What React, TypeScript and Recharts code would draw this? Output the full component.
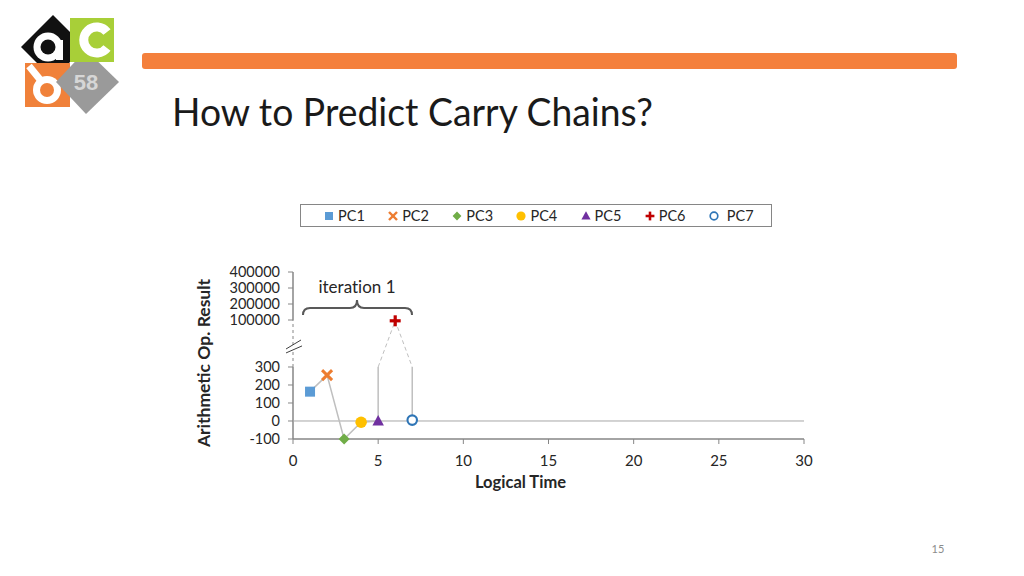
import React from 'react';
import { ScatterChart, Scatter, XAxis, YAxis, Legend, ReferenceLine } from 'recharts';

// values
const seriesNames = ['PC1', 'PC2', 'PC3', 'PC4', 'PC5', 'PC6', 'PC7'];
const logicalTime = [1, 2, 3, 4, 5, 6, 7];
const opResult = [163, 255, -100, -7, 0, 95000, 5];
const xTicks = [0, 5, 10, 15, 20, 25, 30];
const yTickValues = [-100, 0, 100, 200, 300, 100000, 200000, 300000, 400000];

// broken y axis: lower panel is linear in raw units, upper panel is squeezed
const LOWER_TOP = 300;
const UPPER_BASE = 100000;
const BREAK_GAP = 261;
const UPPER_PER_UNIT = 1125;
const toAxis = (v: number) =>
  v <= 1000 ? v : LOWER_TOP + BREAK_GAP + (v - UPPER_BASE) / UPPER_PER_UNIT;

const yAxisTicks = yTickValues.map(toAxis);
const yDomain = [yTickValues[0], toAxis(yTickValues[yTickValues.length - 1])];

const FONT = "Lato, 'Open Sans', sans-serif";
const TEXT = '#262626';
const AXIS = '#868686';
const CONNECTOR = '#bfbfbf';
const NO_LIGA: React.CSSProperties = { fontVariantLigatures: 'none', fontFeatureSettings: '"liga" 0' };

const colors = ['#5b9bd5', '#ed7d31', '#70ad47', '#ffc000', '#7030a0', '#c00000', '#2e75b6'];

const drawMarker = (i: number, cx: number, cy: number, s: number) => {
  const c = colors[i];
  switch (i) {
    case 0:
      return <rect x={cx - s} y={cy - s} width={s * 2} height={s * 2} fill={c} />;
    case 1:
      return (
        <g stroke={c} strokeWidth={s * 0.6} strokeLinecap="butt">
          <line x1={cx - s} y1={cy - s} x2={cx + s} y2={cy + s} />
          <line x1={cx - s} y1={cy + s} x2={cx + s} y2={cy - s} />
        </g>
      );
    case 2:
      return (
        <polygon
          points={`${cx},${cy - s * 1.1} ${cx + s * 1.1},${cy} ${cx},${cy + s * 1.1} ${cx - s * 1.1},${cy}`}
          fill={c}
        />
      );
    case 3:
      return <circle cx={cx} cy={cy} r={s * 1.15} fill={c} />;
    case 4:
      return (
        <polygon
          points={`${cx},${cy - s * 1.2} ${cx + s * 1.15},${cy + s * 0.9} ${cx - s * 1.15},${cy + s * 0.9}`}
          fill={c}
        />
      );
    case 5:
      return (
        <g fill={c}>
          <rect x={cx - s * 1.1} y={cy - s * 0.32} width={s * 2.2} height={s * 0.64} />
          <rect x={cx - s * 0.32} y={cy - s * 1.1} width={s * 0.64} height={s * 2.2} />
        </g>
      );
    default:
      return <circle cx={cx} cy={cy} r={s * 0.95} fill="#fff" stroke={c} strokeWidth={s * 0.42} />;
  }
};

const noDot = () => <g />;

// connector path: solid through PC1..PC5, up to top of the lower panel,
// dashed over the break to PC6 and back, then solid down to PC7
const solidA = [0, 1, 2, 3, 4]
  .map((i) => ({ x: logicalTime[i], y: toAxis(opResult[i]) }))
  .concat({ x: logicalTime[4], y: LOWER_TOP });
const dashedBreak = [
  { x: logicalTime[4], y: LOWER_TOP },
  { x: logicalTime[5], y: toAxis(opResult[5]) },
  { x: logicalTime[6], y: LOWER_TOP },
];
const solidB = [
  { x: logicalTime[6], y: LOWER_TOP },
  { x: logicalTime[6], y: toAxis(opResult[6]) },
];
const zeroLine = [
  { x: xTicks[0], y: 0 },
  { x: xTicks[xTicks.length - 1], y: 0 },
];

const yLabel = (v: number) => {
  const i = yAxisTicks.findIndex((a) => Math.abs(a - v) < 1e-6);
  return i >= 0 ? String(yTickValues[i]) : '';
};

const LegendBox = () => (
  <div
    style={{
      width: 472,
      height: 23,
      boxSizing: 'border-box',
      border: `1px solid ${AXIS}`,
      display: 'flex',
      alignItems: 'center',
      paddingLeft: 21,
      fontFamily: FONT,
      fontSize: 14.5,
      color: TEXT,
      background: '#fff',
    }}
  >
    {seriesNames.map((name, i) => (
      <div key={name} style={{ width: 64.7, display: 'flex', alignItems: 'center' }}>
        <svg width={14} height={14} style={{ marginRight: i === 6 ? 6 : 2 }}>
          {drawMarker(i, 7, 7, 4)}
        </svg>
        <span>{name}</span>
      </div>
    ))}
  </div>
);

const Logo = () => (
  <g>
    <polygon points="53,15 85,47 53,79 21,47" fill="#111" />
    <circle cx={48} cy={47} r={14.5} fill="#fff" />
    <rect x={56} y={40} width={7} height={20} fill="#fff" />
    <circle cx={48} cy={47} r={7.5} fill="#111" />
    <rect x={25} y={63} width={45} height={44} fill="#f0813a" />
    <line x1={29} y1={66} x2={42} y2={82} stroke="#fff" strokeWidth={7} />
    <circle cx={47} cy={90} r={14} fill="#fff" />
    <circle cx={47} cy={90} r={7} fill="#f0813a" />
    <polygon points="86,50 119,82 86,114 56,82" fill="#9a9a9a" />
    <rect x={70} y={18} width={44} height={44} fill="#a8cf38" />
    <path d="M107,48 A13,13 0 1 1 107,32" fill="none" stroke="#fff" strokeWidth={9} />
    <text
      x={86}
      y={90}
      textAnchor="middle"
      fontFamily="'Liberation Sans', Arial, sans-serif"
      fontWeight="bold"
      fontSize={22}
      fill="#d6d6d6"
    >
      58
    </text>
  </g>
);

export default function App() {
  return (
    <div
      style={{
        position: 'absolute',
        left: 0,
        top: 0,
        width: 1024,
        height: 576,
        background: '#fff',
        overflow: 'hidden',
      }}
    >
      <svg width={1024} height={576} style={{ position: 'absolute', left: 0, top: 0 }}>
        <Logo />
        <rect x={142} y={53} width={815} height={16} rx={3} fill="#f4803c" />
        <text
          x={172}
          y={126}
          fontFamily={FONT}
          fontSize={38}
          textLength={481}
          lengthAdjust="spacingAndGlyphs"
          fill="#1a1a1a"
        >
          How to Predict Carry Chains?
        </text>
        <path
          d="M303,315 Q303,308 310,308 L350,308 Q357,308 357,300 Q357,308 364,308 L405,308 Q412,308 412,315"
          fill="none"
          stroke="#595959"
          strokeWidth={2}
        />
        <text
          x={357}
          y={293}
          textAnchor="middle"
          fontFamily={FONT}
          fontSize={17}
          fill={TEXT}
          style={NO_LIGA}
        >
          iteration 1
        </text>
        <text x={938} y={553} textAnchor="middle" fontFamily={FONT} fontSize={11} fill="#8c8c8c">
          15
        </text>
      </svg>

      <div style={{ position: 'absolute', left: 180, top: 195 }}>
        <ScatterChart width={640} height={310} margin={{ top: 77, right: 16, bottom: 36, left: 0 }}>
          <XAxis
            type="number"
            dataKey="x"
            domain={[xTicks[0], xTicks[xTicks.length - 1]]}
            ticks={xTicks}
            interval={0}
            height={30}
            tickSize={5}
            tickMargin={11}
            axisLine={{ stroke: AXIS, strokeWidth: 1.5 }}
            tickLine={{ stroke: AXIS }}
            tick={{ fill: TEXT, fontSize: 15, fontFamily: FONT }}
            label={{
              content: (p: any) => {
                const vb = p.viewBox || { x: 113, y: 244, width: 511 };
                const cx = vb.x + vb.width / 2 - 28;
                const cy = vb.y + 43;
                return (
                  <text
                    x={cx}
                    y={cy}
                    textAnchor="middle"
                    dominantBaseline="central"
                    fontFamily={FONT}
                    fontWeight="bold"
                    fontSize={16.5}
                    fill={TEXT}
                  >
                    Logical Time
                  </text>
                );
              },
            }}
          />
          <YAxis
            type="number"
            dataKey="y"
            domain={yDomain}
            ticks={yAxisTicks}
            interval={0}
            width={113}
            tickSize={5}
            tickMargin={8}
            axisLine={false}
            tickLine={{ stroke: AXIS }}
            tickFormatter={yLabel}
            tick={{ fill: TEXT, fontSize: 14.5, fontFamily: FONT }}
            label={{
              content: (p: any) => {
                const vb = p.viewBox || { x: 0, y: 77, height: 167 };
                const cx = vb.x + 23;
                const cy = vb.y + vb.height / 2 + 7.5;
                return (
                  <text
                    x={cx}
                    y={cy}
                    transform={`rotate(-90 ${cx} ${cy})`}
                    textAnchor="middle"
                    dominantBaseline="central"
                    fontFamily={FONT}
                    fontWeight="bold"
                    fontSize={17.5}
                    fill={TEXT}
                  >
                    Arithmetic Op. Result
                  </text>
                );
              },
            }}
          />

          {/* broken y axis */}
          <ReferenceLine
            segment={[{ x: 0, y: -100 }, { x: 0, y: 300 }]}
            stroke={AXIS}
            strokeWidth={1.5}
            ifOverflow="visible"
          />
          <ReferenceLine
            segment={[{ x: 0, y: 300 }, { x: 0, y: 394 }]}
            stroke={AXIS}
            strokeDasharray="3 3"
            ifOverflow="visible"
          />
          <ReferenceLine
            segment={[{ x: 0, y: 422 }, { x: 0, y: 561 }]}
            stroke={AXIS}
            strokeDasharray="3 3"
            ifOverflow="visible"
          />
          <ReferenceLine
            segment={[{ x: 0, y: 561 }, { x: 0, y: yDomain[1] }]}
            stroke={AXIS}
            strokeWidth={1.5}
            ifOverflow="visible"
          />
          <ReferenceLine
            segment={[{ x: -0.41, y: 378 }, { x: 0.53, y: 417 }]}
            stroke="#404040"
            ifOverflow="visible"
          />
          <ReferenceLine
            segment={[{ x: -0.41, y: 400 }, { x: 0.47, y: 450 }]}
            stroke="#404040"
            ifOverflow="visible"
          />

          <Scatter
            data={zeroLine}
            line={{ stroke: '#a6a6a6', strokeWidth: 1 }}
            shape={noDot}
            legendType="none"
            isAnimationActive={false}
          />
          <Scatter
            data={solidA}
            line={{ stroke: CONNECTOR, strokeWidth: 1.5 }}
            shape={noDot}
            legendType="none"
            isAnimationActive={false}
          />
          <Scatter
            data={dashedBreak}
            line={{ stroke: CONNECTOR, strokeWidth: 1, strokeDasharray: '4 3' }}
            shape={noDot}
            legendType="none"
            isAnimationActive={false}
          />
          <Scatter
            data={solidB}
            line={{ stroke: CONNECTOR, strokeWidth: 1.5 }}
            shape={noDot}
            legendType="none"
            isAnimationActive={false}
          />

          {seriesNames.map((name, i) => (
            <Scatter
              key={name}
              name={name}
              data={[{ x: logicalTime[i], y: toAxis(opResult[i]) }]}
              fill={colors[i]}
              shape={(p: any) => drawMarker(i, p.cx, p.cy, 5)}
              isAnimationActive={false}
            />
          ))}

          <Legend
            layout="horizontal"
            verticalAlign="middle"
            align="center"
            content={() => <LegendBox />}
            wrapperStyle={{ position: 'absolute', left: 120, top: 9, width: 472, height: 23 }}
          />
        </ScatterChart>
      </div>
    </div>
  );
}
